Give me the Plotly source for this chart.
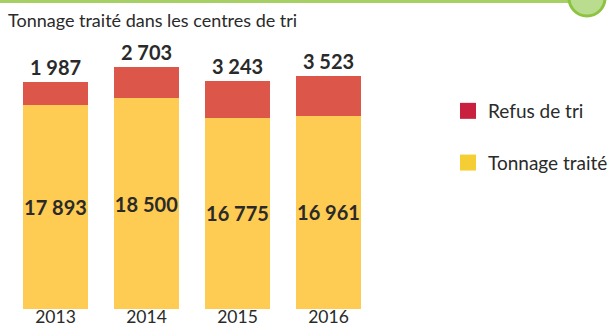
import plotly.graph_objects as go

# Data: tonnages in the sorting centres
years = ["2013", "2014", "2015", "2016"]
tonnage_traite = [17893, 18500, 16775, 16961]
refus_de_tri = [1987, 2703, 3243, 3523]

title_text = "Tonnage traité dans les centres de tri"
series_names = ["Refus de tri", "Tonnage traité"]

YELLOW = "#FECB53"
RED = "#DC574A"
LEG_RED = "#C9203F"
LEG_YELLOW = "#F5CE35"
TXT = "#2a2a2a"
FONT = "Lato"


def fmt(v):
    return f"{v:,}".replace(",", " ")


# plot area geometry (pixels) used to place the decorations
W, H = 612, 329
ML, MR, MT, MB = 10, 238, 60, 20
PW, PH = W - ML - MR, H - MT - MB


def px_x(px):
    return (px - ML) / PW


def px_y(py):
    return (H - MB - py) / PH


fig = go.Figure()

fig.add_trace(go.Bar(
    x=years, y=tonnage_traite, name=series_names[1],
    marker=dict(color=YELLOW, line=dict(width=0)),
    text=[fmt(v) for v in tonnage_traite],
    textposition="inside", insidetextanchor="middle", textangle=0,
    textfont=dict(family=FONT, size=20, color=TXT, weight="bold"),
    constraintext="none", showlegend=False,
))
fig.add_trace(go.Bar(
    x=years, y=refus_de_tri, name=series_names[0],
    marker=dict(color=RED, line=dict(width=0)),
    text=[fmt(v) for v in refus_de_tri],
    textposition="outside", textangle=0,
    textfont=dict(family=FONT, size=20, color=TXT, weight="bold"),
    constraintext="none", cliponaxis=False, showlegend=False,
))

# legend entries
for name, col, grp in [(series_names[0], LEG_RED, "a"), (series_names[1], LEG_YELLOW, "b")]:
    fig.add_trace(go.Scatter(
        x=[None], y=[None], mode="markers", name=name, legendgroup=grp,
        marker=dict(symbol="square", size=16, color=col),
    ))

# header rule and roundel
shapes = [
    dict(type="line", xref="paper", yref="paper",
         x0=px_x(0), x1=px_x(578), y0=px_y(1.5), y1=px_y(1.5),
         line=dict(color="#A6CF64", width=3)),
    dict(type="circle", xref="paper", yref="paper",
         x0=px_x(569), x1=px_x(605), y0=px_y(-20), y1=px_y(16),
         fillcolor="#B9DC8E", line=dict(color="#8CC43F", width=3)),
]

fig.update_layout(
    width=W, height=H,
    margin=dict(l=ML, r=MR, t=MT, b=MB, pad=0, autoexpand=False),
    paper_bgcolor="white", plot_bgcolor="white",
    barmode="stack", bargap=0.275,
    font=dict(family=FONT, color=TXT),
    title=dict(text=title_text, xref="container", yref="container",
               x=8 / W, xanchor="left", y=1 - 21 / H, yanchor="middle",
               font=dict(family=FONT, size=18, color=TXT)),
    xaxis=dict(showgrid=False, showline=False, zeroline=False, ticks="",
               automargin=False, ticklabelstandoff=-5,
               tickfont=dict(family=FONT, size=17.5, color=TXT)),
    yaxis=dict(visible=False, range=[0, 21850], automargin=False),
    legend=dict(xref="container", yref="container", x=448 / W, y=1 - 92 / H,
                xanchor="left", yanchor="top", tracegroupgap=24,
                font=dict(family=FONT, size=19, color=TXT),
                bgcolor="rgba(0,0,0,0)"),
    shapes=shapes,
)

fig.write_html("out.html")
